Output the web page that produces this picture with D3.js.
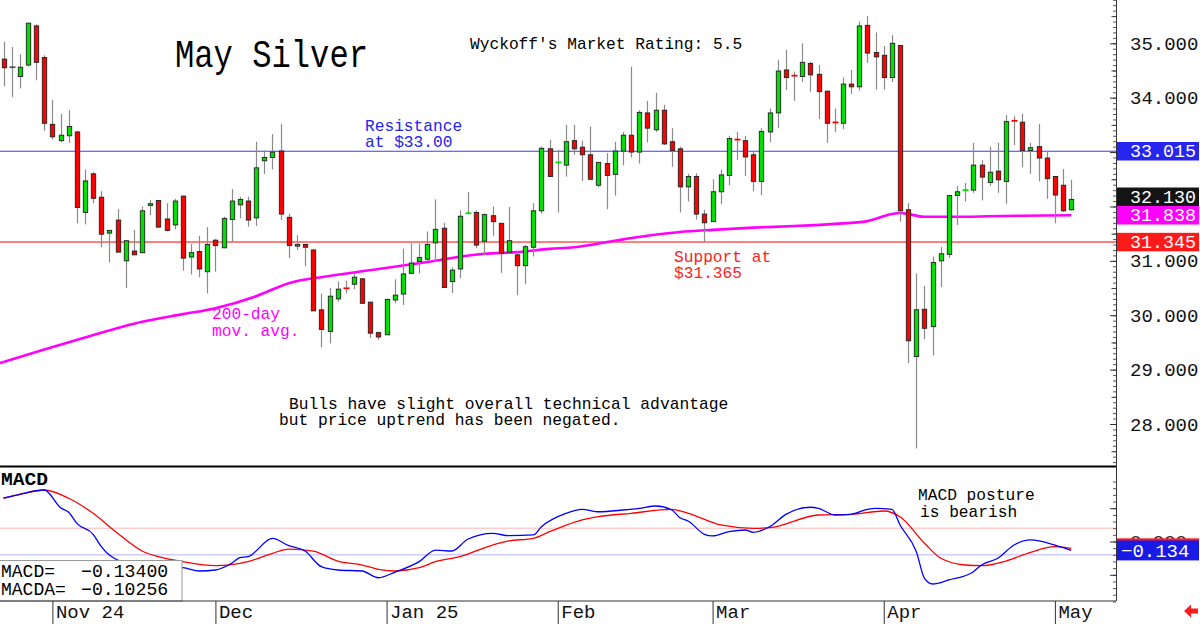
<!DOCTYPE html>
<html><head><meta charset="utf-8">
<script src="https://cdn.jsdelivr.net/npm/d3@7"></script>
<style>
body{margin:0;background:#fff}
svg{display:block}
text{font-family:"Liberation Mono","DejaVu Sans Mono",monospace}
</style>
</head><body>
<svg id="c" width="1200" height="624"></svg>
<script>
// ---------- DATA ----------
const opens = [34.71,34.56,34.39,34.60,35.32,34.74,33.51,33.21,33.30,33.37,
31.89,32.60,32.17,31.51,31.75,31.00,31.18,31.15,32.02,32.11,
31.77,31.66,32.19,31.07,31.17,30.80,31.38,31.24,31.76,32.03,
32.10,31.79,32.84,32.90,33.02,31.80,31.27,31.30,31.20,30.10,
29.70,30.30,30.50,30.57,30.67,30.24,29.68,29.64,30.28,30.39,
30.77,30.99,31.03,31.33,31.60,30.62,30.85,31.87,31.89,31.36,
31.83,31.69,31.16,31.11,30.91,31.25,31.92,33.06,32.80,32.76,
33.21,33.09,32.95,32.39,32.79,32.59,33.02,33.31,33.00,33.72,
33.41,33.77,33.19,33.06,32.36,32.55,31.86,31.72,32.27,32.57,
33.24,33.21,32.95,32.46,33.37,33.72,34.51,34.41,34.39,34.63,
34.43,34.12,33.55,33.53,34.25,34.20,35.33,34.83,34.78,34.37,
34.96,31.94,29.24,30.11,29.79,31.00,31.12,32.20,32.29,32.30,
32.76,32.44,32.65,32.46,33.58,33.55,33.03,33.10,32.89,32.55,
32.39,31.94];
const highs = [35.03,34.93,34.80,35.37,35.35,34.78,33.96,33.70,33.77,33.39,
32.68,32.63,32.28,31.57,31.95,31.38,31.57,32.00,32.12,32.11,
32.06,32.14,32.20,31.31,31.46,31.62,31.40,31.81,32.32,32.18,
32.18,33.19,33.03,33.33,33.52,31.87,31.47,31.32,31.21,30.40,
30.50,30.62,30.63,30.77,30.68,30.25,29.70,30.31,30.66,31.22,
31.32,31.32,31.54,32.13,31.70,30.88,31.93,32.27,31.93,31.87,
32.00,31.69,31.99,31.17,31.29,32.06,33.10,33.22,33.04,33.50,
33.50,33.21,33.47,32.82,32.98,33.19,33.37,34.57,33.77,33.94,
34.09,33.87,33.44,33.10,32.60,32.61,31.94,32.50,32.68,33.30,
33.37,33.30,33.01,33.44,33.80,34.69,34.88,34.48,35.00,34.66,
34.60,34.13,33.80,34.37,34.51,35.40,35.50,35.20,34.95,35.15,
34.97,32.06,30.77,30.54,31.08,31.26,32.21,32.38,32.43,33.17,
32.85,33.10,33.17,33.68,33.66,33.70,33.17,33.52,33.01,32.56,
32.69,32.49];
const lows = [34.21,34.01,34.17,34.57,34.32,33.39,33.23,33.18,33.17,31.69,
31.67,32.06,31.25,30.97,31.16,30.50,31.11,31.14,31.84,31.61,
31.54,31.58,30.82,30.75,30.70,30.40,30.80,31.23,31.35,31.78,
31.63,31.64,32.60,32.68,31.75,31.05,31.20,30.90,30.08,29.41,
29.48,30.25,30.40,30.48,30.21,29.58,29.55,29.64,30.22,30.19,
30.76,30.77,30.99,30.98,30.50,30.41,30.68,31.87,31.23,31.10,
31.46,30.78,31.14,30.37,30.57,31.08,31.87,32.55,31.89,32.55,
32.95,32.47,32.49,32.36,31.95,32.20,32.76,32.90,32.79,33.18,
33.37,33.13,32.73,31.89,32.09,31.76,31.35,31.72,32.04,32.39,
32.85,32.56,32.28,32.21,33.18,33.44,34.14,33.94,34.29,34.11,
33.61,33.17,33.37,33.42,34.07,34.13,34.64,34.15,34.15,34.29,
31.72,29.12,27.55,29.56,29.26,30.52,31.05,31.66,32.09,32.25,
32.11,32.38,32.25,32.05,33.13,32.72,32.60,32.46,32.14,31.69,
31.90,31.92];
const closes = [34.55,34.56,34.56,35.37,34.65,33.53,33.28,33.31,33.47,31.98,
32.47,32.15,31.49,31.56,31.16,31.37,31.11,31.92,32.05,31.62,
31.56,32.10,31.05,31.15,30.85,31.30,31.28,31.78,32.10,32.13,
31.75,32.71,32.90,33.00,31.86,31.28,31.30,31.25,30.08,29.74,
30.35,30.48,30.49,30.70,30.22,29.67,29.60,30.29,30.37,30.76,
30.96,31.06,31.30,31.58,30.51,30.83,31.82,31.88,31.29,31.85,
31.72,31.14,31.37,30.91,31.26,31.92,33.07,32.55,32.82,33.19,
33.06,32.95,32.50,32.81,32.57,33.02,33.31,33.00,33.73,33.44,
33.77,33.15,33.03,32.36,32.55,31.86,31.70,32.27,32.58,33.25,
33.22,32.91,32.46,33.38,33.72,34.49,34.37,34.40,34.65,34.42,
34.11,33.53,33.54,34.25,34.20,35.32,34.82,34.75,34.37,35.00,
31.92,29.53,30.10,29.76,30.97,31.13,32.20,32.27,32.31,32.76,
32.54,32.63,32.49,33.56,33.57,33.03,33.08,32.89,32.51,32.21,
31.92,32.13];

// 200-day moving average (read at candle indices)
const maIdx  = [0,5,10,17,22,26,31,35,40,46,52,59,63,67,70,75,79,83,87,92,97,102,106,109,110,113,117,121,125,131];
const maVals = [29.14,29.37,29.59,29.88,30.02,30.13,30.35,30.59,30.72,30.85,30.98,31.13,31.16,31.22,31.25,31.37,31.46,31.53,31.57,31.61,31.64,31.68,31.73,31.86,31.88,31.81,31.81,31.82,31.83,31.838];

// MACD (blue) and MACD average (red)
const macdIdx  = [0,2,5,7,8,9,11,12,14,17,19,22,24,26,28,29,30,33,35,37,39,41,44,46,48,51,53,55,57,60,62,65,66,69,71,73,76,78,80,82,83,84,86,87,89,91,92,94,96,99,100,102,104,106,107,109,110,112,113,114,116,119,120,122,124,126,129,131];
const macdVals = [0.653,0.709,0.773,0.508,0.438,0.273,0.108,-0.078,-0.278,-0.353,-0.383,-0.393,-0.443,-0.428,-0.327,-0.243,-0.228,0.048,-0.063,-0.143,-0.378,-0.428,-0.443,-0.544,-0.462,-0.303,-0.128,-0.143,0.038,0.123,0.087,0.098,0.222,0.423,0.483,0.447,0.473,0.498,0.533,0.473,0.357,0.308,0.108,0.083,0.147,0.173,0.138,0.222,0.408,0.514,0.498,0.398,0.408,0.483,0.498,0.483,0.248,-0.153,-0.553,-0.638,-0.578,-0.453,-0.353,-0.252,-0.053,0.023,-0.053,-0.134];
const sigIdx  = [0,2,5,8,11,14,17,19,22,26,30,33,35,38,41,44,46,48,51,53,56,60,62,65,67,71,73,77,82,84,88,92,94,100,104,108,110,113,115,118,120,123,126,129,131];
const sigVals = [0.649,0.709,0.773,0.649,0.423,0.123,-0.143,-0.228,-0.303,-0.363,-0.303,-0.177,-0.113,-0.143,-0.293,-0.353,-0.417,-0.443,-0.393,-0.303,-0.228,-0.053,0.008,0.048,0.147,0.323,0.372,0.423,0.483,0.423,0.248,0.198,0.207,0.398,0.408,0.458,0.372,-0.027,-0.252,-0.353,-0.363,-0.293,-0.162,-0.078,-0.1026];
const macdLevels = [0.2, -0.2];

// axis ticks
const monthTickIdx = [6,26,47,68,87,108,129];
const monthLabels  = ["Nov 24","Dec","Jan 25","Feb","Mar","Apr","May"];
const priceTicks   = [28,29,30,31,34,35];   // 32 and 33 sit under the value boxes
const priceMajor   = [28,29,30,31,32,33,34,35];

// reference levels
const resistance = 33.015;
const support    = 31.345;
const lastPrice  = 32.130;
const lastMA     = 31.838;
const lastMACD   = -0.134;
const lastMACDA  = -0.10256;

// ---------- DRAW ----------
const svg = d3.select("#c");
const n = closes.length;
const x  = d3.scaleLinear().domain([0, n - 1]).range([3.5, 1071.2]);
const y  = d3.scaleLinear().domain([28, 35]).range([424, 43.3]);
const ym = d3.scaleLinear().domain([-1, 1]).range([541.5 + 66.6, 541.5 - 66.6]);
const AX = 1116;
const FONT = '"Liberation Mono","DejaVu Sans Mono",monospace';

function txt(g, tx, ty, s, o) {
  o = o || {};
  const t = g.append("text").attr("x", tx).attr("y", ty).text(s)
    .attr("font-size", o.size || 17).attr("fill", o.fill || "#000");
  if (o.cw) t.attr("textLength", s.length * o.cw).attr("lengthAdjust", "spacingAndGlyphs");
  if (o.len) t.attr("textLength", o.len).attr("lengthAdjust", "spacingAndGlyphs");
  if (o.weight) t.attr("font-weight", o.weight);
  return t;
}

// reference lines
svg.append("line").attr("x1", 0).attr("x2", AX).attr("y1", y(support)).attr("y2", y(support))
  .attr("stroke", "#ff7f7f").attr("stroke-width", 2);
svg.append("line").attr("x1", 0).attr("x2", AX).attr("y1", y(resistance)).attr("y2", y(resistance))
  .attr("stroke", "#3a3aff").attr("stroke-width", 1.2);

// moving average
const maPts = maIdx.map((d, i) => [d, maVals[i]]);
svg.append("path").datum(maPts)
  .attr("d", d3.line().x(d => x(d[0])).y(d => y(d[1])).curve(d3.curveMonotoneX))
  .attr("fill", "none").attr("stroke", "#ff00ff").attr("stroke-width", 2.6);
svg.append("line").attr("x1", 0).attr("x2", x(0)).attr("y1", y(maVals[0]) + 1).attr("y2", y(maVals[0]))
  .attr("stroke", "#ff00ff").attr("stroke-width", 2.6);

// candles
const cg = svg.append("g");
const bw = 4.4;
d3.range(n).forEach(i => {
  const cx = Math.round(x(i)) + 0.5;
  const o = opens[i], c = closes[i];
  cg.append("line").attr("x1", cx).attr("x2", cx).attr("y1", y(highs[i])).attr("y2", y(lows[i]))
    .attr("stroke", "#8a8a8a").attr("stroke-width", 1.2);
  const up = c >= o;
  const col = up ? "#00e000" : "#ff0000";
  const top = y(Math.max(o, c)), bot = y(Math.min(o, c));
  if (bot - top < 1.6) {
    const mid = (top + bot) / 2;
    cg.append("line").attr("x1", cx - 3).attr("x2", cx + 3).attr("y1", mid).attr("y2", mid)
      .attr("stroke", Math.abs(c - o) < 0.005 ? "#555" : col).attr("stroke-width", 1.8);
  } else {
    cg.append("rect").attr("x", cx - bw / 2).attr("y", top).attr("width", bw).attr("height", bot - top)
      .attr("fill", col).attr("stroke", "#202020").attr("stroke-width", 0.9);
  }
});

// price axis (right)
const yAxisMinor = d3.axisRight(y).tickValues(d3.range(27.3, 35.85, 0.1)).tickSize(-3).tickFormat("");
const gyMin = svg.append("g").attr("transform", `translate(${AX},0)`).call(yAxisMinor);
gyMin.select(".domain").remove();
gyMin.selectAll("line").attr("stroke", "#555");
const yAxisMid = d3.axisRight(y).tickValues(d3.range(27.5, 35.6, 1)).tickSize(-4.5).tickFormat("");
const gyMid = svg.append("g").attr("transform", `translate(${AX},0)`).call(yAxisMid);
gyMid.select(".domain").remove();
gyMid.selectAll("line").attr("stroke", "#444");
const yAxisMaj = d3.axisRight(y).tickValues(priceMajor).tickSize(-6).tickFormat("");
const gyMaj = svg.append("g").attr("transform", `translate(${AX},0)`).call(yAxisMaj);
gyMaj.select(".domain").remove();
gyMaj.selectAll("line").attr("stroke", "#333");
const yAxisLab = d3.axisRight(y).tickValues(priceTicks).tickSize(0).tickPadding(14).tickFormat(d3.format(".3f"));
const gy = svg.append("g").attr("transform", `translate(${AX},0)`).call(yAxisLab);
gy.select(".domain").remove();
gy.selectAll("text").attr("font-size", 19).attr("fill", "#111").attr("font-family", FONT);

// right axis line
svg.append("line").attr("x1", AX + 0.5).attr("x2", AX + 0.5).attr("y1", 0).attr("y2", 601)
  .attr("stroke", "#333").attr("stroke-width", 1);

// value boxes on price axis
const boxes = [
  {v: resistance, c: "#2626f0"},
  {v: lastPrice,  c: "#141414"},
  {v: lastMA,     c: "#ff00ff"},
  {v: support,    c: "#ff1a1a"}
];
const bh = 18.5;
boxes.forEach(b => b.cy = y(b.v));
for (let i = boxes.length - 2; i >= 0; i--) {
  if (boxes[i + 1].cy - boxes[i].cy < bh) boxes[i].cy = boxes[i + 1].cy - bh;
}
boxes.forEach(b => {
  svg.append("rect").attr("x", AX + 1).attr("y", b.cy - bh / 2).attr("width", 82).attr("height", bh).attr("fill", b.c);
  txt(svg, 1130, b.cy + 6, d3.format(".3f")(b.v), {size: 18, fill: "#fff", len: 66});
});

// annotations in price panel
txt(svg, 175, 67, "May Silver", {size: 38, len: 193});
txt(svg, 470, 49, "Wyckoff's Market Rating: 5.5", {size: 17, cw: 9.72});
txt(svg, 365, 131, "Resistance", {size: 17, cw: 9.72, fill: "#2323ee"});
txt(svg, 365, 147, "at $33.00", {size: 17, cw: 9.72, fill: "#2323ee"});
txt(svg, 674, 262, "Support at", {size: 17, cw: 9.72, fill: "#ff2020"});
txt(svg, 674, 278, "$31.365", {size: 17, cw: 9.72, fill: "#ff2020"});
txt(svg, 212, 319, "200-day", {size: 17, cw: 9.72, fill: "#ff00ff"});
txt(svg, 212, 336, "mov. avg.", {size: 17, cw: 9.72, fill: "#ff00ff"});
txt(svg, 289, 409, "Bulls have slight overall technical advantage", {size: 17, cw: 9.76});
txt(svg, 279, 425, "but price uptrend has been negated.", {size: 17, cw: 9.76});

// panel separator
svg.append("line").attr("x1", 0).attr("x2", AX).attr("y1", 466.5).attr("y2", 466.5)
  .attr("stroke", "#000").attr("stroke-width", 2);

// ---------- MACD PANEL ----------
macdLevels.forEach((lv, k) => {
  svg.append("line").attr("x1", 0).attr("x2", AX).attr("y1", ym(lv)).attr("y2", ym(lv))
    .attr("stroke", k === 0 ? "#ffb4b4" : "#b4b4ff").attr("stroke-width", 1);
});
const sigPts = sigIdx.map((d, i) => [d, sigVals[i]]);
const macdPts = macdIdx.map((d, i) => [d, macdVals[i]]);
const mline = d3.line().x(d => x(d[0])).y(d => ym(d[1])).curve(d3.curveMonotoneX);
svg.append("path").datum(sigPts).attr("d", mline).attr("fill", "none").attr("stroke", "#ff0000").attr("stroke-width", 1.3);
svg.append("path").datum(macdPts).attr("d", mline).attr("fill", "none").attr("stroke", "#0000ff").attr("stroke-width", 1.3);

txt(svg, 1, 485, "MACD", {size: 18, weight: "bold", len: 47});
txt(svg, 918, 500, "MACD posture", {size: 17, cw: 9.72});
txt(svg, 920, 517, "is bearish", {size: 17, cw: 9.72});

// legend box
svg.append("rect").attr("x", -1).attr("y", 560.5).attr("width", 183).attr("height", 40.5)
  .attr("fill", "#fff").attr("stroke", "#999").attr("stroke-width", 1);
txt(svg, 1, 577, "MACD=", {size: 18, cw: 10.8});
txt(svg, 81, 577, d3.format(".5f")(lastMACD), {size: 18, cw: 10.9});
txt(svg, 1, 595, "MACDA=", {size: 18, cw: 10.8});
txt(svg, 81, 595, d3.format(".5f")(lastMACDA), {size: 18, cw: 10.9});

// MACD right axis
const mMinor = d3.axisRight(ym).tickValues(d3.range(-0.9, 0.95, 0.1)).tickSize(-3).tickFormat("");
const gm = svg.append("g").attr("transform", `translate(${AX},0)`).call(mMinor);
gm.select(".domain").remove();
gm.selectAll("line").attr("stroke", "#555");
const mMajor = d3.axisRight(ym).tickValues([-0.5, 0, 0.5]).tickSizeInner(-6).tickSizeOuter(0).tickPadding(14)
  .tickFormat(d => d === 0 ? d3.format(".3f")(d) : "");
const gm2 = svg.append("g").attr("transform", `translate(${AX},0)`).call(mMajor);
gm2.select(".domain").remove();
gm2.selectAll("line").attr("stroke", "#333");
gm2.selectAll("text").attr("font-size", 19).attr("fill", "#222").attr("font-family", FONT);

// MACD value boxes
const mbh = 20;
svg.append("rect").attr("x", AX + 1).attr("y", ym(lastMACDA) - mbh / 2).attr("width", 82).attr("height", mbh).attr("fill", "#ff1a1a");
svg.append("rect").attr("x", AX + 1).attr("y", ym(lastMACD) - mbh / 2).attr("width", 82).attr("height", mbh).attr("fill", "#1a1ae6");
txt(svg, 1121, ym(lastMACD) + 7, d3.format(".3f")(lastMACD), {size: 19, fill: "#fff"});

// bottom axis
svg.append("line").attr("x1", 0).attr("x2", AX).attr("y1", 601).attr("y2", 601).attr("stroke", "#333").attr("stroke-width", 1);
const xAxis = d3.axisBottom(x).tickValues(monthTickIdx).tickSize(23)
  .tickFormat((d, i) => monthLabels[i]);
const gx = svg.append("g").attr("transform", "translate(0,601)").call(xAxis);
gx.select(".domain").remove();
gx.selectAll("line").attr("stroke", "#333");
gx.selectAll("text").attr("x", 3).attr("y", 17).attr("dy", 0).attr("text-anchor", "start")
  .attr("font-size", 19).attr("fill", "#111").attr("font-family", FONT);

// red arrow bottom-right
svg.append("path")
  .attr("d", "M1184,611 L1191,604.5 L1191,608.5 L1198,608.5 L1198,613.5 L1191,613.5 L1191,617.5 Z")
  .attr("fill", "#ff1a1a");
</script>
</body></html>
